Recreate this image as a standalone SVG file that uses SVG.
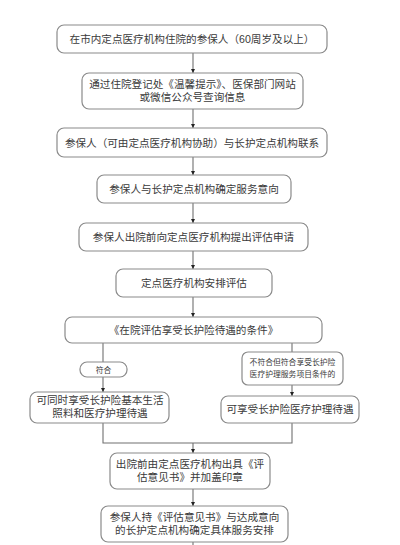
<svg xmlns="http://www.w3.org/2000/svg" width="400" height="545" viewBox="0 0 400 545">
<defs>
<style>
.box{fill:#fff;stroke:#8a8a8a;stroke-width:1.2}
.t{font-family:"Liberation Sans","Noto Sans CJK SC",sans-serif;font-size:10.6px;fill:#3a3a3a;text-anchor:middle}
.s{font-family:"Liberation Sans","Noto Sans CJK SC",sans-serif;font-size:7.8px;fill:#3a3a3a;text-anchor:middle}
.c{fill:none;stroke:#707070;stroke-width:1.1}
</style>
<marker id="ah" viewBox="0 0 6 6" refX="6" refY="3" markerWidth="4" markerHeight="4" orient="auto" markerUnits="userSpaceOnUse">
<path d="M0,0 L6,3 L0,6 z" fill="#222"/>
</marker>
</defs>
<rect width="400" height="545" fill="#fff"/>
<g id="connectors">
<line class="c" x1="193" y1="53" x2="193" y2="73" marker-end="url(#ah)"/>
<line class="c" x1="193" y1="109" x2="193" y2="128" marker-end="url(#ah)"/>
<line class="c" x1="193" y1="157" x2="193" y2="175" marker-end="url(#ah)"/>
<line class="c" x1="193" y1="203" x2="193" y2="223" marker-end="url(#ah)"/>
<line class="c" x1="193" y1="251" x2="193" y2="269" marker-end="url(#ah)"/>
<line class="c" x1="193" y1="297" x2="193" y2="317" marker-end="url(#ah)"/>
<line class="c" x1="103" y1="343" x2="103" y2="362"/>
<line class="c" x1="103" y1="377" x2="103" y2="392" marker-end="url(#ah)"/>
<line class="c" x1="292" y1="343" x2="292" y2="352"/>
<line class="c" x1="292" y1="385" x2="292" y2="396" marker-end="url(#ah)"/>
<polyline class="c" points="103,423 103,443 292,443 292,423"/>
<line class="c" x1="193" y1="443" x2="193" y2="453" marker-end="url(#ah)"/>
<line class="c" x1="193" y1="489" x2="193" y2="506" marker-end="url(#ah)"/>
<line class="c" x1="193" y1="542" x2="193" y2="545"/>
</g>
<g id="n1"><rect class="box" x="57" y="25" width="270" height="28" rx="7"/><text class="t" x="192" y="43">在市内定点医疗机构住院的参保人（60周岁及以上）</text></g>
<g id="n2"><rect class="box" x="82" y="73" width="221" height="36" rx="7"/><text class="t" x="192.5" y="88">通过住院登记处《温馨提示》、医保部门网站</text><text class="t" x="192.5" y="101">或微信公众号查询信息</text></g>
<g id="n3"><rect class="box" x="57" y="128" width="270" height="29" rx="7"/><text class="t" x="192" y="146.5">参保人（可由定点医疗机构协助）与长护定点机构联系</text></g>
<g id="n4"><rect class="box" x="97" y="175" width="194" height="28" rx="7"/><text class="t" x="194" y="193">参保人与长护定点机构确定服务意向</text></g>
<g id="n5"><rect class="box" x="79" y="223" width="229" height="28" rx="7"/><text class="t" x="193.5" y="241">参保人出院前向定点医疗机构提出评估申请</text></g>
<g id="n6"><rect class="box" x="116" y="269" width="156" height="28" rx="7"/><text class="t" x="194" y="287">定点医疗机构安排评估</text></g>
<g id="n7"><rect class="box" x="65" y="317" width="257" height="26" rx="7"/><text class="t" x="193.5" y="334">《在院评估享受长护险待遇的条件》</text></g>
<g id="n8"><rect class="box" x="80" y="362" width="47" height="15" rx="7"/><text class="s" x="103.5" y="372.5">符合</text></g>
<g id="n9"><rect class="box" x="242" y="352" width="101" height="33" rx="6"/><text class="s" x="292.5" y="365">不符合但符合享受长护险</text><text class="s" x="292.5" y="377">医疗护理服务项目条件的</text></g>
<g id="n10"><rect class="box" x="30" y="392" width="139" height="31" rx="7"/><text class="t" x="100" y="404">可同时享受长护险基本生活</text><text class="t" x="100" y="417">照料和医疗护理待遇</text></g>
<g id="n11"><rect class="box" x="221" y="396" width="138" height="27" rx="7"/><text class="t" x="290" y="413">可享受长护险医疗护理待遇</text></g>
<g id="n12"><rect class="box" x="110" y="453" width="160" height="36" rx="7"/><text class="t" x="190" y="467.5">出院前由定点医疗机构出具《评</text><text class="t" x="190" y="480.5">估意见书》并加盖印章</text></g>
<g id="n13"><rect class="box" x="101" y="506" width="187" height="36" rx="7"/><text class="t" x="194.5" y="520.5">参保人持《评估意见书》与达成意向</text><text class="t" x="194.5" y="533.5">的长护定点机构确定具体服务安排</text></g>
</svg>
